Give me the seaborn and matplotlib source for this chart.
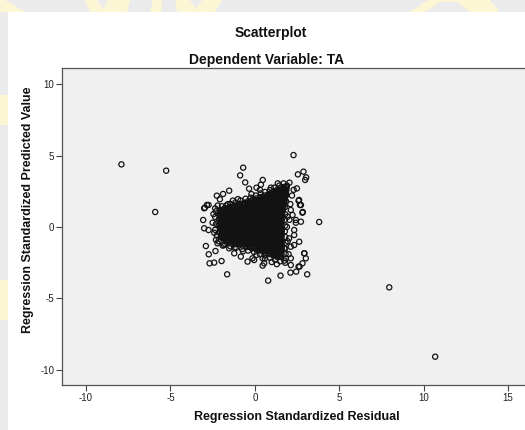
import matplotlib
matplotlib.use("Agg")
import matplotlib.pyplot as plt
from matplotlib.patches import Rectangle, Polygon
import seaborn as sns
import pandas as pd

# ---------------- data ----------------
title = "Scatterplot"
subtitle = "Dependent Variable: TA"
x_label = "Regression Standardized Residual"
y_label = "Regression Standardized Predicted Value"
x_ticks = [-10, -5, 0, 5, 10, 15]
y_ticks = [-10, -5, 0, 5, 10]

# isolated outliers
outlier_resid = [-7.9, -5.25, -5.9, 7.96, 10.68, 3.81, 2.29]
outlier_pred = [4.38, 3.94, 1.05, -4.22, -9.07, 0.35, 5.03]

# scattered points around the main cloud
fringe_resid = [-0.69, -0.87, -0.57, -0.34, 0.36, 0.47, 1.36, 0.95, 2.55, 2.88, 3.04, 2.98,
                -1.52, -1.88, -2.25, -2.07, -2.84, -3.0, -3.06, -3.0, -2.74, -2.9, -2.73,
                -2.33, -2.41, -2.68, -1.97, -1.64, 0.79, 1.52, 2.11, 2.45, 3.1, 2.65, 2.94,
                2.63, 2.84, 2.59, 2.67, 2.43, 2.33, 2.13, 0.46, -0.04, -0.43, -1.22,
                2.49, 2.62, 2.73, 2.82, 2.43, 2.73, 2.13, 2.23, 1.94, -2.74, -2.96,
                -1.82, -1.82, -0.83, -0.14, -1.52, -2.21, -2.01, 3.02, 2.82, 2.59, 2.92,
                2.13, 2.13, 1.84, 2.33, 2.33, 2.03, 1.74, 0.46, 0.55,
                -2.35, -2.45, -2.5, -2.4, -2.3, -1.9, -1.2, -0.7, 0.1, 0.6, 1.0, 1.3,
                1.8, 2.0, 1.95, 1.9, 2.05, 2.1, 2.2, 2.3, -1.6, -1.0, -0.2, 0.3, 0.1, -1.3]
fringe_pred = [4.15, 3.61, 3.12, 2.68, 2.96, 3.29, 3.05, 2.75, 3.68, 3.87, 3.47, 3.29,
               2.54, 2.31, 2.19, 1.94, 1.54, 1.31, 0.49, -0.09, -0.21, -1.33, -1.91,
               -1.68, -2.49, -2.54, -2.38, -3.31, -3.75, -3.4, -3.19, -3.12, -3.31, -2.77, -1.84,
               -1.03, 1.05, 1.84, 1.54, 0.3, -0.21, -1.38, -2.7, -2.31, -2.42, -1.84,
               2.7, 1.89, 1.54, 1.0, 0.49, 0.37, 1.19, 0.84, 0.72, 1.54, 1.35,
               -0.79, -1.26, -2.07, -2.19, -1.49, -1.14, -0.56, -2.19, -2.54, -2.77, -1.84,
               -2.19, -2.66, -2.19, -1.26, -0.56, -0.79, -1.49, -2.19, -2.54,
               1.3, 0.9, 0.3, -0.4, -0.9, -1.3, -1.45, -1.7, -1.95, -2.2, -2.45, -2.6,
               -2.5, -1.9, -1.0, 0.0, 0.5, 1.6, 2.2, 2.6, 1.6, 1.95, 2.3, 2.6, 2.75, 1.85]

# points crowding the outline of the dense cloud
edge_resid = [-1.95, -1.7, -1.45, -1.15, -0.85, -0.55, -0.25, 0.05, 0.35, 0.6, 0.9, 1.15,
              1.45, 1.7, 2.05, -2.2,
              -2.3, -2.35, -2.3, -2.35, -2.25, -2.15,
              -1.75, -1.45, -1.1, -0.75, -0.4, -0.05, 0.3, 0.6, 0.9, 1.2, 1.5, 1.75,
              1.8, 1.85, 1.85, 1.8, 1.8, 1.78, 1.8, 1.78, 1.8, 1.82, 1.8, 1.82]
edge_pred = [1.45, 1.5, 1.62, 1.72, 1.85, 1.98, 2.05, 2.2, 2.35, 2.45, 2.58, 2.75,
             2.9, 3.05, 3.1, 1.5,
             1.1, 0.7, 0.2, -0.2, -0.6, -1.0,
             -1.2, -1.35, -1.45, -1.55, -1.65, -1.75, -1.9, -2.0, -2.15, -2.3, -2.4, -2.35,
             2.6, 2.2, 1.8, 1.4, 0.9, 0.5, 0.1, -0.3, -0.7, -1.1, -1.5, -1.9]

# dense core of the cloud, row by row (predicted value level -> residuals)
core_levels = [2.9, 2.7, 2.5, 2.3, 2.1, 1.9, 1.7, 1.5, 1.3, 1.1, 0.9, 0.7, 0.5, 0.3, 0.1,
               -0.1, -0.3, -0.5, -0.7, -0.9, -1.1, -1.3, -1.5, -1.7, -1.9, -2.1]
core_resid = [
    [1.9],
    [1.51, 1.69, 1.87],
    [1.16, 1.33, 1.51, 1.69, 1.85],
    [0.8, 0.98, 1.15, 1.33, 1.51, 1.67, 1.83],
    [0.35, 0.53, 0.71, 0.88, 1.06, 1.24, 1.42, 1.6, 1.78],
    [-0.14, 0.04, 0.22, 0.4, 0.58, 0.76, 0.94, 1.12, 1.3, 1.47, 1.64, 1.77],
    [-0.64, -0.46, -0.28, -0.1, 0.08, 0.26, 0.44, 0.62, 0.8, 0.98, 1.16, 1.34, 1.52, 1.73],
    [-1.22, -1.04, -0.86, -0.68, -0.5, -0.32, -0.14, 0.04, 0.22, 0.4, 0.58, 0.76, 0.94, 1.12,
     1.3, 1.48, 1.7],
    [-1.8, -1.62, -1.44, -1.26, -1.08, -0.9, -0.72, -0.54, -0.36, -0.18, 0.0, 0.18, 0.36, 0.54,
     0.72, 0.9, 1.08, 1.26, 1.44, 1.67],
    [-2.08, -1.9, -1.72, -1.54, -1.36, -1.18, -1.0, -0.82, -0.64, -0.46, -0.28, -0.1, 0.08,
     0.26, 0.44, 0.62, 0.8, 0.98, 1.16, 1.34, 1.52, 1.65],
    [-2.12, -1.96, -1.8, -1.63, -1.45, -1.27, -1.09, -0.91, -0.73, -0.55, -0.37, -0.19, -0.01,
     0.17, 0.35, 0.53, 0.71, 0.89, 1.07, 1.25, 1.43, 1.61],
    [-2.04, -1.86, -1.68, -1.5, -1.32, -1.14, -0.96, -0.78, -0.6, -0.42, -0.24, -0.06, 0.12,
     0.3, 0.48, 0.66, 0.84, 1.02, 1.2, 1.38, 1.56],
    [-2.14, -1.96, -1.8, -1.62, -1.44, -1.26, -1.08, -0.9, -0.72, -0.54, -0.36, -0.18, 0.0,
     0.18, 0.36, 0.54, 0.72, 0.9, 1.08, 1.26, 1.44, 1.6],
    [-2.05, -1.88, -1.7, -1.52, -1.34, -1.16, -0.98, -0.8, -0.62, -0.44, -0.26, -0.08, 0.1,
     0.28, 0.46, 0.64, 0.82, 1.0, 1.18, 1.36, 1.54],
    [-2.15, -1.98, -1.81, -1.63, -1.45, -1.27, -1.09, -0.91, -0.73, -0.55, -0.37, -0.19, -0.01,
     0.17, 0.35, 0.53, 0.71, 0.89, 1.07, 1.25, 1.43, 1.6],
    [-2.04, -1.86, -1.69, -1.51, -1.33, -1.15, -0.97, -0.79, -0.61, -0.43, -0.25, -0.07, 0.11,
     0.29, 0.47, 0.65, 0.83, 1.01, 1.19, 1.37, 1.55],
    [-2.09, -1.91, -1.73, -1.55, -1.37, -1.19, -1.01, -0.83, -0.65, -0.47, -0.29, -0.11, 0.07,
     0.25, 0.43, 0.61, 0.79, 0.97, 1.15, 1.33, 1.5, 1.6],
    [-1.97, -1.79, -1.61, -1.43, -1.25, -1.07, -0.89, -0.71, -0.53, -0.35, -0.17, 0.01, 0.19,
     0.37, 0.55, 0.73, 0.91, 1.09, 1.27, 1.45, 1.59],
    [-2.02, -1.84, -1.66, -1.48, -1.3, -1.12, -0.94, -0.76, -0.58, -0.4, -0.22, -0.04, 0.14,
     0.32, 0.5, 0.68, 0.86, 1.04, 1.22, 1.4, 1.59],
    [-1.74, -1.56, -1.38, -1.2, -1.02, -0.84, -0.66, -0.48, -0.3, -0.12, 0.06, 0.24,
     0.42, 0.6, 0.78, 0.96, 1.14, 1.32, 1.5],
    [-1.49, -1.31, -1.13, -0.95, -0.77, -0.59, -0.41, -0.23, -0.05, 0.13, 0.31, 0.49, 0.67,
     0.85, 1.03, 1.21, 1.39, 1.58],
    [-0.74, -0.56, -0.38, -0.2, -0.02, 0.16, 0.34, 0.52, 0.7, 0.88, 1.06, 1.24, 1.42, 1.6],
    [-0.18, 0.0, 0.18, 0.36, 0.54, 0.72, 0.9, 1.08, 1.26, 1.44, 1.6],
    [0.45, 0.63, 0.81, 0.99, 1.17, 1.35, 1.52],
    [0.89, 1.07, 1.25, 1.42, 1.58],
    [1.33, 1.5],
]

# further points packed between the rows above (the core is solid black)
core_levels_b = [2.8, 2.6, 2.4, 2.2, 2.0, 1.8, 1.6, 1.4, 1.2, 1.0, 0.8, 0.6, 0.4, 0.2, 0.0,
                 -0.2, -0.4, -0.6, -0.8, -1.0, -1.2, -1.4, -1.6, -1.8, -2.0]
core_resid_b = [
    [1.7, 1.88],
    [1.33, 1.5, 1.68, 1.86],
    [0.98, 1.16, 1.34, 1.52, 1.7, 1.84],
    [0.58, 0.76, 0.94, 1.12, 1.3, 1.48, 1.66, 1.8],
    [0.1, 0.28, 0.46, 0.64, 0.82, 1.0, 1.18, 1.36, 1.54, 1.72],
    [-0.4, -0.22, -0.04, 0.14, 0.32, 0.5, 0.68, 0.86, 1.04, 1.22, 1.4, 1.58, 1.74],
    [-0.94, -0.76, -0.58, -0.4, -0.22, -0.04, 0.14, 0.32, 0.5, 0.68, 0.86, 1.04, 1.22, 1.4,
     1.58, 1.71],
    [-1.5, -1.32, -1.14, -0.96, -0.78, -0.6, -0.42, -0.24, -0.06, 0.12, 0.3, 0.48, 0.66, 0.84,
     1.02, 1.2, 1.38, 1.56, 1.68],
    [-1.95, -1.77, -1.59, -1.41, -1.23, -1.05, -0.87, -0.69, -0.51, -0.33, -0.15, 0.03, 0.21,
     0.39, 0.57, 0.75, 0.93, 1.11, 1.29, 1.47, 1.64],
    [-2.0, -1.82, -1.64, -1.46, -1.28, -1.1, -0.92, -0.74, -0.56, -0.38, -0.2, -0.02, 0.16,
     0.34, 0.52, 0.7, 0.88, 1.06, 1.24, 1.42, 1.6],
    [-2.08, -1.9, -1.72, -1.54, -1.36, -1.18, -1.0, -0.82, -0.64, -0.46, -0.28, -0.1, 0.08,
     0.26, 0.44, 0.62, 0.8, 0.98, 1.16, 1.34, 1.52],
    [-2.1, -1.92, -1.74, -1.56, -1.38, -1.2, -1.02, -0.84, -0.66, -0.48, -0.3, -0.12, 0.06,
     0.24, 0.42, 0.6, 0.78, 0.96, 1.14, 1.32, 1.5],
    [-2.02, -1.84, -1.66, -1.48, -1.3, -1.12, -0.94, -0.76, -0.58, -0.4, -0.22, -0.04, 0.14,
     0.32, 0.5, 0.68, 0.86, 1.04, 1.22, 1.4, 1.57],
    [-2.1, -1.92, -1.74, -1.56, -1.38, -1.2, -1.02, -0.84, -0.66, -0.48, -0.3, -0.12, 0.06,
     0.24, 0.42, 0.6, 0.78, 0.96, 1.14, 1.32, 1.5],
    [-2.06, -1.88, -1.7, -1.52, -1.34, -1.16, -0.98, -0.8, -0.62, -0.44, -0.26, -0.08, 0.1,
     0.28, 0.46, 0.64, 0.82, 1.0, 1.18, 1.36, 1.54],
    [-2.0, -1.82, -1.64, -1.46, -1.28, -1.1, -0.92, -0.74, -0.56, -0.38, -0.2, -0.02, 0.16,
     0.34, 0.52, 0.7, 0.88, 1.06, 1.24, 1.42, 1.58],
    [-2.06, -1.88, -1.7, -1.52, -1.34, -1.16, -0.98, -0.8, -0.62, -0.44, -0.26, -0.08, 0.1,
     0.28, 0.46, 0.64, 0.82, 1.0, 1.18, 1.36, 1.54],
    [-1.93, -1.75, -1.57, -1.39, -1.21, -1.03, -0.85, -0.67, -0.49, -0.31, -0.13, 0.05, 0.23,
     0.41, 0.59, 0.77, 0.95, 1.13, 1.31, 1.49],
    [-1.88, -1.7, -1.52, -1.34, -1.16, -0.98, -0.8, -0.62, -0.44, -0.26, -0.08, 0.1, 0.28,
     0.46, 0.64, 0.82, 1.0, 1.18, 1.36, 1.54],
    [-1.6, -1.42, -1.24, -1.06, -0.88, -0.7, -0.52, -0.34, -0.16, 0.02, 0.2, 0.38, 0.56, 0.74,
     0.92, 1.1, 1.28, 1.46, 1.6],
    [-1.2, -1.02, -0.84, -0.66, -0.48, -0.3, -0.12, 0.06, 0.24, 0.42, 0.6, 0.78, 0.96, 1.14,
     1.32, 1.5],
    [-0.48, -0.3, -0.12, 0.06, 0.24, 0.42, 0.6, 0.78, 0.96, 1.14, 1.32, 1.5],
    [0.12, 0.3, 0.48, 0.66, 0.84, 1.02, 1.2, 1.38, 1.56],
    [0.62, 0.8, 0.98, 1.16, 1.34, 1.52],
    [1.1, 1.28, 1.46],
]

# ---------------- assemble table ----------------
rx, py = [], []
rx += outlier_resid; py += outlier_pred
rx += fringe_resid; py += fringe_pred
rx += edge_resid; py += edge_pred
for levels, rows in ((core_levels, core_resid), (core_levels_b, core_resid_b)):
    for lvl, row in zip(levels, rows):
        rx += row
        py += [lvl] * len(row)
df = pd.DataFrame({"resid": rx, "pred": py})

# ---------------- figure ----------------
sns.set_style("white")
plt.rcParams["font.family"] = ["Liberation Sans", "DejaVu Sans"]

W, H = 525, 430
fig = plt.figure(figsize=(W / 100, H / 100), dpi=100)
fig.patch.set_facecolor("#ebebeb")


def fpoly(pts, color="#fdf6d4"):
    fig.add_artist(Polygon([(x / W, 1 - y / H) for x, y in pts], closed=True,
                           transform=fig.transFigure, facecolor=color,
                           edgecolor="none", zorder=-2))


# faint watermark shapes visible in the grey margin
fpoly([(0, 0), (5, 0), (25, 12), (0, 12)])
fpoly([(85, 0), (97, 0), (103, 9), (108, 0), (130, 0), (127, 12), (90, 12)])
fpoly([(153, 0), (162, 0), (161, 12), (150, 12)])
fpoly([(175, 0), (190, 0), (196, 9), (202, 0), (222, 0), (215, 12), (177, 12)])
fpoly([(410, 12), (428, 0), (490, 0), (500, 12), (470, 12), (458, 2), (440, 2), (425, 12)])
fpoly([(0, 95), (8, 95), (8, 125), (0, 125)])
fpoly([(0, 280), (8, 280), (8, 320), (0, 320)])

fig.add_artist(Rectangle((8 / W, 0), 1, 1 - 12 / H, transform=fig.transFigure,
                         facecolor="white", edgecolor="none", zorder=-1))

ax = fig.add_axes([62 / W, 1 - 385 / H, 1 - 62 / W, (385 - 68) / H])
ax.set_zorder(1)
ax.set_facecolor("#f0f0f0")

sns.scatterplot(data=df, x="resid", y="pred", ax=ax, marker="o", s=14,
                color="#121212", linewidth=0.9, legend=False)
for coll in ax.collections:
    coll.set_facecolor("none")
    coll.set_edgecolor("#121212")
    coll.set_linewidth(0.9)

ax.set_xlim(-11.42, 16.0)
ax.set_ylim(-11.05, 11.12)
ax.set_xticks(x_ticks)
ax.set_yticks(y_ticks)
ax.set_xticklabels([str(t) for t in x_ticks])
ax.set_yticklabels([str(t) for t in y_ticks])
ax.tick_params(axis="both", which="major", bottom=True, left=True, top=False, right=False,
               direction="out", length=4, width=0.8, color="#444444",
               labelsize=7, labelcolor="#222222", pad=1.5)
for side in ["left", "bottom", "top"]:
    ax.spines[side].set_color("#555555")
    ax.spines[side].set_linewidth(0.9)
    ax.spines[side].set_visible(True)
ax.spines["right"].set_visible(False)
ax.set_xlabel("")
ax.set_ylabel("")

fig.text(271 / W, 1 - 33 / H, title, ha="center", va="center", fontsize=10,
         fontweight="bold", color="#111111", zorder=2)
fig.text(267 / W, 1 - 60 / H, subtitle, ha="center", va="center", fontsize=10,
         fontweight="bold", color="#111111", zorder=2)
fig.text(297 / W, 1 - 417 / H, x_label, ha="center", va="center", fontsize=9,
         fontweight="bold", color="#111111", zorder=2)
fig.text(28 / W, 1 - 210 / H, y_label, ha="center", va="center", rotation=90,
         fontsize=9, fontweight="bold", color="#111111", zorder=2)

fig.savefig("out.png", dpi=100, facecolor=fig.get_facecolor())
